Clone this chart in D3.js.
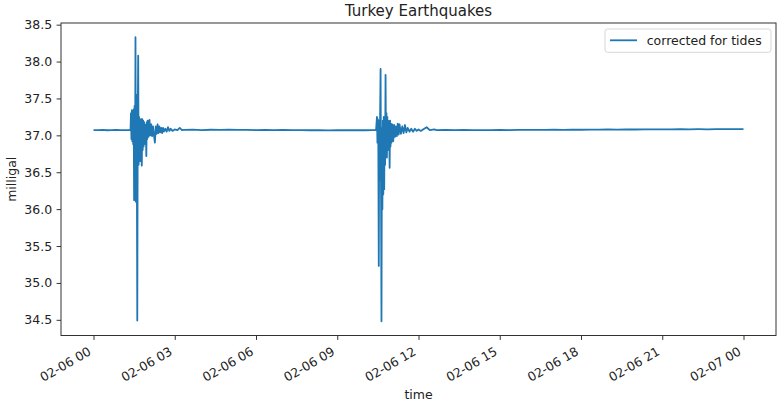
<!DOCTYPE html>
<html>
<head>
<meta charset="utf-8">
<script src="https://cdn.jsdelivr.net/npm/d3@7"></script>
<style>
  body { margin: 0; background: #fff; }
  svg { display: block; font-family: "DejaVu Sans", sans-serif; }
</style>
</head>
<body>
<script>
// minutes after 2023-02-06 00:00 UTC, gravity in milligal
const calmBefore = [
  [0, 37.072], [10, 37.070], [20, 37.073], [30, 37.069], [40, 37.071],
  [50, 37.074], [60, 37.070], [70, 37.072], [80, 37.071], [82, 37.07],
];
const quakeOne = [
  [83, 37.30], [84, 36.95], [85, 37.34], [86, 36.92], [87, 37.28], [88, 36.88],
  [89, 37.35], [90, 36.12], [91, 37.40], [92, 36.30], [93, 38.33], [94, 36.10],
  [95, 37.55], [96, 36.70], [97, 34.49], [98, 37.20], [99, 38.08], [100, 36.60],
  [101, 37.25], [102, 36.70], [103, 37.20], [104, 36.65], [105, 37.22], [106, 36.75],
  [107, 36.59], [108, 37.22], [109, 36.80], [110, 37.20], [111, 36.85], [112, 37.18],
  [113, 36.90], [114, 37.15], [115, 36.88], [116, 37.14], [117, 36.72], [118, 37.18],
  [119, 36.95], [120, 37.20], [122, 36.98], [124, 37.21], [126, 37.00], [128, 37.15],
  [130, 36.99], [132, 37.12], [134, 37.00], [136, 36.90], [138, 37.12], [140, 37.02],
  [142, 37.15], [144, 37.03], [146, 37.12], [148, 37.04], [150, 37.10], [152, 37.03],
  [154, 37.10], [156, 37.05], [159, 37.09], [162, 37.05], [165, 37.11], [168, 37.06],
  [171, 37.09], [175, 37.06], [180, 37.08], [186, 37.07], [191, 37.10], [196, 37.07],
];
const calmBetween = [
  [200, 37.075], [220, 37.078], [240, 37.072], [260, 37.076], [280, 37.074],
  [300, 37.077], [320, 37.073], [340, 37.075], [360, 37.072], [380, 37.074],
  [400, 37.071], [420, 37.073], [440, 37.070], [460, 37.072], [480, 37.069],
  [500, 37.071], [520, 37.068], [540, 37.070], [560, 37.069], [580, 37.071],
  [600, 37.069], [620, 37.070], [626, 37.07],
];
const quakeTwo = [
  [628, 37.25], [629, 36.90], [630, 37.22], [631, 36.85], [632, 35.23], [633, 37.20],
  [634, 36.40], [635, 37.30], [636, 37.90], [637, 36.20], [638, 34.48], [639, 37.10],
  [640, 36.00], [641, 37.20], [642, 36.20], [643, 37.25], [644, 36.27], [645, 37.20],
  [646, 36.60], [647, 37.82], [648, 36.80], [649, 37.30], [650, 36.70], [651, 37.25],
  [652, 36.80], [653, 37.20], [654, 36.90], [655, 37.18], [656, 36.56], [657, 37.20],
  [658, 36.85], [659, 37.16], [660, 36.90], [662, 37.15], [664, 36.92], [666, 37.14],
  [668, 36.98], [670, 37.12], [672, 36.99], [674, 37.16], [676, 37.01], [678, 37.15],
  [681, 37.02], [684, 37.12], [687, 37.03], [690, 37.14], [693, 37.04], [696, 37.10],
  [700, 37.05], [704, 37.09], [708, 37.05], [712, 37.09], [716, 37.06], [720, 37.08],
  [725, 37.06], [730, 37.08], [738, 37.11], [745, 37.07], [755, 37.08],
];
const calmAfter = [
  [760, 37.072], [780, 37.074], [800, 37.071], [820, 37.073], [840, 37.070],
  [860, 37.072], [880, 37.071], [900, 37.073], [920, 37.072], [940, 37.074],
  [960, 37.073], [980, 37.075], [1000, 37.074], [1020, 37.076], [1040, 37.075],
  [1060, 37.077], [1080, 37.076], [1100, 37.078], [1120, 37.077], [1140, 37.079],
  [1160, 37.078], [1180, 37.080], [1200, 37.079], [1220, 37.081], [1240, 37.080],
  [1260, 37.082], [1280, 37.081], [1300, 37.083], [1320, 37.082], [1340, 37.083],
  [1360, 37.082], [1380, 37.084], [1400, 37.083], [1420, 37.085], [1440, 37.084],
];

const xTickHours = [0, 3, 6, 9, 12, 15, 18, 21, 24];
const yTicks = [34.5, 35.0, 35.5, 36.0, 36.5, 37.0, 37.5, 38.0, 38.5];

const title = "Turkey Earthquakes";
const seriesName = "corrected for tides";
const xLabel = "time";
const yLabel = "milligal";

const start = Date.UTC(2023, 1, 6, 0, 0);
const data = [...calmBefore, ...quakeOne, ...calmBetween, ...quakeTwo, ...calmAfter]
  .map(([m, v]) => ({ time: new Date(start + m * 60000), value: v }));

const width = 777;
const height = 404;
const margin = { top: 23, right: 1, bottom: 68.5, left: 61 };
const innerW = width - margin.left - margin.right;
const innerH = height - margin.top - margin.bottom;
const blue = "#1f77b4";
const fontSize = 12.5;

// matplotlib-like 5% margins around the data
const pad = (lo, hi) => [lo - (hi - lo) * 0.05, hi + (hi - lo) * 0.05];
const [t0, t1] = d3.extent(data, (d) => +d.time);
const [v0, v1] = d3.extent(data, (d) => d.value);

const xScale = d3.scaleUtc().domain(pad(t0, t1).map((t) => new Date(t))).range([0, innerW]);
const yScale = d3.scaleLinear().domain(pad(v0, v1)).range([innerH, 0]);

const svg = d3
  .select("body")
  .append("svg")
  .attr("width", width)
  .attr("height", height);

svg.append("rect").attr("width", width).attr("height", height).attr("fill", "white");

const g = svg.append("g").attr("transform", `translate(${margin.left},${margin.top})`);

// line
const line = d3
  .line()
  .x((d) => xScale(d.time))
  .y((d) => yScale(d.value));

g.append("path")
  .datum(data)
  .attr("fill", "none")
  .attr("stroke", blue)
  .attr("stroke-width", 1.8)
  .attr("stroke-linejoin", "round")
  .attr("d", line);

// y axis
const yAxis = g
  .append("g")
  .call(
    d3.axisLeft(yScale)
      .tickValues(yTicks)
      .tickFormat(d3.format(".1f"))
      .tickSize(4.4)
      .tickPadding(4.5),
  );
yAxis.select(".domain").remove();
yAxis.selectAll("line").attr("stroke", "#333");
yAxis
  .selectAll("text")
  .attr("fill", "#222")
  .style("font-size", fontSize + "px")
  .style("font-family", "DejaVu Sans");

// x axis
const xTicks = xTickHours.map((h) => new Date(start + h * 3600000));
const xAxis = g
  .append("g")
  .attr("transform", `translate(0,${innerH})`)
  .call(
    d3.axisBottom(xScale)
      .tickValues(xTicks)
      .tickFormat(d3.utcFormat("%m-%d %H"))
      .tickSize(4.4),
  );
xAxis.select(".domain").remove();
xAxis.selectAll("line").attr("stroke", "#333");
xAxis
  .selectAll("text")
  .attr("fill", "#222")
  .attr("x", null)
  .attr("y", null)
  .attr("dy", null)
  .attr("text-anchor", "end")
  .attr("transform", "translate(-2,18.5) rotate(-30)")
  .style("font-size", fontSize + "px")
  .style("font-family", "DejaVu Sans");

// frame (spines)
g.append("rect")
  .attr("x", 0)
  .attr("y", 0)
  .attr("width", innerW)
  .attr("height", innerH)
  .attr("fill", "none")
  .attr("stroke", "#333")
  .attr("stroke-width", 1);

// title and axis labels
svg.append("text")
  .attr("x", margin.left + innerW / 2)
  .attr("y", 15.5)
  .attr("text-anchor", "middle")
  .attr("fill", "#222")
  .style("font-size", "15px")
  .text(title);

svg.append("text")
  .attr("x", margin.left + innerW / 2)
  .attr("y", 399)
  .attr("text-anchor", "middle")
  .attr("fill", "#222")
  .style("font-size", fontSize + "px")
  .text(xLabel);

svg.append("text")
  .attr("transform", `translate(16,${margin.top + innerH / 2}) rotate(-90)`)
  .attr("text-anchor", "middle")
  .attr("fill", "#222")
  .style("font-size", fontSize + "px")
  .text(yLabel);

// legend
const legend = svg.append("g").attr("transform", "translate(605,29)");
legend.append("rect")
  .attr("width", 166)
  .attr("height", 23.3)
  .attr("rx", 2.5)
  .attr("fill", "white")
  .attr("fill-opacity", 0.8)
  .attr("stroke", "#d6d6d6")
  .attr("stroke-width", 1);
legend.append("line")
  .attr("x1", 5)
  .attr("x2", 32)
  .attr("y1", 11.3)
  .attr("y2", 11.3)
  .attr("stroke", blue)
  .attr("stroke-width", 1.8);
legend.append("text")
  .attr("x", 41.7)
  .attr("y", 15.7)
  .attr("fill", "#222")
  .style("font-size", fontSize + "px")
  .text(seriesName);
</script>
</body>
</html>
